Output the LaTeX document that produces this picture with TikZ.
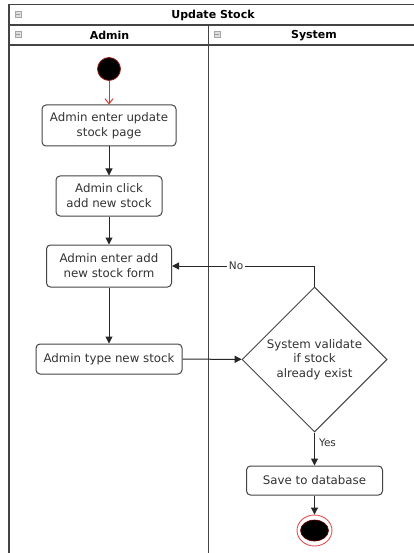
\documentclass[tikz,border=0pt]{standalone}
\usepackage{fontspec}
\setmainfont{DejaVu Sans}
\usetikzlibrary{shapes.geometric,arrows.meta,calc}
\definecolor{txt}{HTML}{333333}
\definecolor{lanegray}{HTML}{444444}
\definecolor{startred}{HTML}{D9342B}
\definecolor{endred}{HTML}{E05050}
\tikzset{
  action/.style={draw=lanegray, line width=1pt, rounded corners=4pt, fill=white,
    align=center, text=txt, font=\fontsize{11.8}{15}\selectfont, inner sep=0pt},
  decision/.style={diamond, draw=lanegray, line width=1pt, fill=white, aspect=1,
    align=center, text=txt, font=\fontsize{11.8}{14.5}\selectfont, inner sep=0pt},
  flow/.style={draw=black!85, line width=1pt, -{Triangle[length=7pt,width=7pt]}},
  lane/.style={draw=lanegray, line width=1.4pt},
  header/.style={text=black, font=\bfseries\fontsize{11}{13}\selectfont},
  guard/.style={fill=white, text=txt, font=\fontsize{10.5}{12}\selectfont, inner sep=2pt},
  minusbox/.style={draw=gray!70, fill=gray!25, line width=0.5pt, minimum width=6pt,
    minimum height=6pt, inner sep=0pt}
}
\begin{document}
\begin{tikzpicture}[x=1pt, y=-1pt]
\useasboundingbox (0,0) rectangle (414,553);
\fill[white] (0,0) rectangle (414,553);

% pool and swimlane frame
\draw[lane] (9,553) -- (9,4.5) -- (420,4.5);
\draw[lane] (9,25) -- (420,25);
\draw[lane] (9,45) -- (420,45);
\draw[lane] (208.5,25) -- (208.5,553);

\node[header] (pool) at (213,15) {Update Stock};
\node[header] (laneA) at (109.5,35.5) {Admin};
\node[header] (laneS) at (314,35.5) {System};

\foreach \x/\y/\n in {18/14.5/m1, 18/34.5/m2, 217/34.5/m3}{
  \node[minusbox] (\n) at (\x,\y) {};
  \draw[gray!80, line width=0.6pt] ($(\n)+(-2,0)$) -- ($(\n)+(2,0)$);
}

% initial state
\node[circle, fill=black, draw=startred!70!black, line width=0.8pt,
      minimum size=23pt, inner sep=0pt] (start) at (109,69) {};

% actions
\node[action, minimum width=134pt, minimum height=41pt] (enterPage) at (109,125.5)
  {Admin enter update\\stock page};
\node[action, minimum width=106pt, minimum height=40pt] (clickAdd) at (109,196)
  {Admin click\\add new stock};
\node[action, minimum width=125pt, minimum height=42pt] (enterForm) at (109,266)
  {Admin enter add\\new stock form};
\node[action, minimum width=146pt, minimum height=30pt] (typeStock) at (109,359)
  {Admin type new stock};

\node[decision, minimum width=145pt, minimum height=145pt] (validate) at (314.5,359.5)
  {System validate\\if stock\\already exist};

\node[action, minimum width=136pt, minimum height=29pt] (save) at (314.5,480.5)
  {Save to database};

% final state
\node[ellipse, draw=endred, line width=0.9pt, fill=white,
      minimum width=35pt, minimum height=31pt, inner sep=0pt] (final) at (314.5,530.5) {};
\node[ellipse, fill=black, draw=red!45!black, line width=0.6pt,
      minimum width=28pt, minimum height=21pt, inner sep=0pt] (finalcore) at (final) {};

% control flow
\draw[startred, line width=1pt, -{Straight Barb[length=5pt,width=8pt]}] (start) -- (enterPage);
\draw[flow] (enterPage) -- (clickAdd);
\draw[flow] (clickAdd) -- (enterForm);
\draw[flow] (enterForm) -- (typeStock);
\draw[flow] (typeStock) -- (validate);
\draw[flow] (validate.north) -- (validate.north |- enterForm) -- node[guard, pos=0.55] (no) {No} (enterForm.east);
\draw[flow] (validate.south) -- node[guard, right=2pt, pos=0.3, fill=none] (yes) {Yes} (save.north);
\draw[flow] (save) -- (final);
\end{tikzpicture}
\end{document}
